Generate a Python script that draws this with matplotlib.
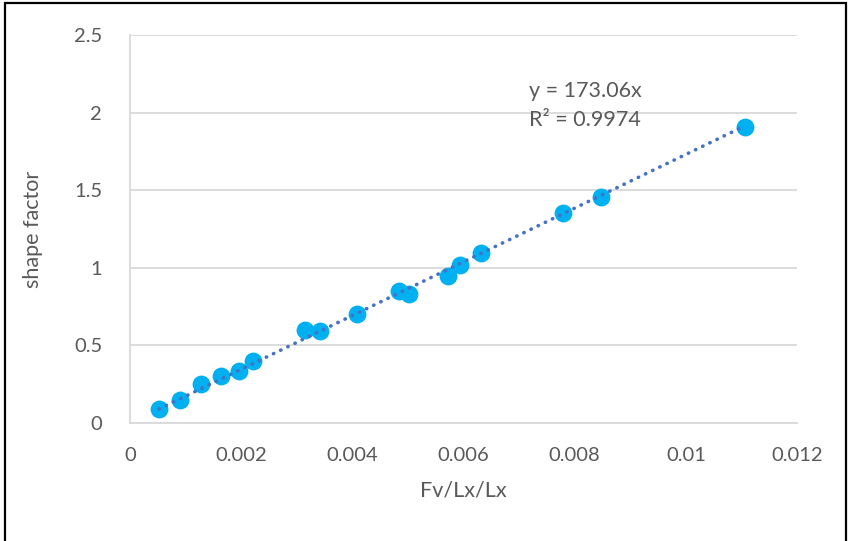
import numpy as np
import matplotlib
matplotlib.use("Agg")
import matplotlib.pyplot as plt
from matplotlib.patches import Rectangle

x_vals = [0.000522, 0.00090, 0.00128, 0.00164, 0.00196, 0.00221, 0.00315, 0.00342,
          0.00408, 0.00484, 0.00502, 0.00572, 0.00594, 0.00631, 0.00779, 0.00847, 0.01106]
y_vals = [0.09, 0.15, 0.25, 0.30, 0.335, 0.40, 0.60, 0.59,
          0.70, 0.85, 0.83, 0.95, 1.02, 1.095, 1.355, 1.455, 1.905]
slope = 173.06
r2 = 0.9974
x_ticks = [0, 0.002, 0.004, 0.006, 0.008, 0.01, 0.012]
x_tick_labels = ["0", "0.002", "0.004", "0.006", "0.008", "0.01", "0.012"]
y_ticks = [0, 0.5, 1, 1.5, 2, 2.5]
y_tick_labels = ["0", "0.5", "1", "1.5", "2", "2.5"]

plt.rcParams['font.family'] = ['Lato', 'DejaVu Sans']

fig = plt.figure(figsize=(8.49, 5.41), dpi=100)
ax = fig.add_axes([130/849, 1-423/541, (797-130)/849, (423-35)/541])

tick_col = "#595959"
ax.set_xlim(0, 0.012)
ax.set_ylim(0, 2.5)
ax.set_xticks(x_ticks)
ax.set_xticklabels(x_tick_labels)
ax.set_yticks(y_ticks)
ax.set_yticklabels(y_tick_labels)
ax.tick_params(axis='both', length=0, colors=tick_col, labelsize=14.5)
ax.tick_params(axis='x', pad=17)
ax.tick_params(axis='y', pad=20)
ax.grid(axis='y', color="#D9D9D9", linewidth=1.3)
ax.set_axisbelow(True)
for s in ['top', 'right']:
    ax.spines[s].set_visible(False)
for s in ['left', 'bottom']:
    ax.spines[s].set_color("#D9D9D9")
    ax.spines[s].set_linewidth(1.3)

xl = np.array([min(x_vals), max(x_vals)])
ax.plot(xl, slope*xl, linestyle=(0, (0.1, 2.1)), dash_capstyle='round',
        color="#4472C4", linewidth=2.6, zorder=3)
ax.scatter(x_vals, y_vals, s=165, color="#00B0F0", zorder=2, linewidths=0)

ax.text(0.00718, 2.14, f"y = {slope}x", fontsize=15.5, color=tick_col, va='center', ha='left')
ax.text(0.00718, 1.95, f"R² = {r2}", fontsize=15.5, color=tick_col, va='center', ha='left')

ax.set_xlabel("Fv/Lx/Lx", fontsize=15.5, color=tick_col, labelpad=12)
ax.set_ylabel("shape factor", fontsize=15.5, color=tick_col, labelpad=22)

fig.patches.append(Rectangle((5/849, -0.01), 841/849, 1 - 3/541 + 0.01, transform=fig.transFigure,
                             fill=False, edgecolor='black', linewidth=1.6))

fig.savefig("out.png", dpi=100)
